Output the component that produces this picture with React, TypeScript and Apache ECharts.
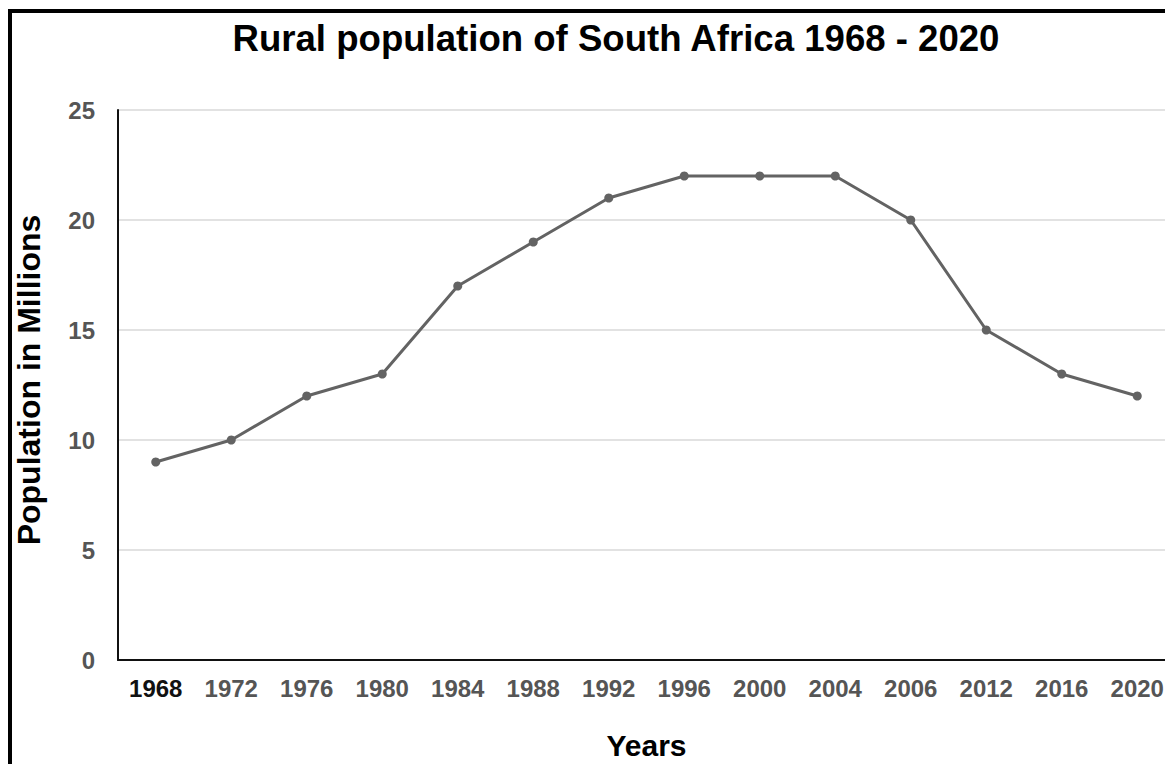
import React, { useEffect, useRef } from "react";
import * as echarts from "echarts";

const years = ["1968", "1972", "1976", "1980", "1984", "1988", "1992", "1996", "2000", "2004", "2006", "2012", "2016", "2020"];
const population = [9, 10, 12, 13, 17, 19, 21, 22, 22, 22, 20, 15, 13, 12];
const yTicks = [0, 5, 10, 15, 20, 25];

const FONT = "'Liberation Sans', Arial, sans-serif";

export default function App() {
  const ref = useRef<HTMLDivElement>(null);
  useEffect(() => {
    if (!ref.current) return;
    const chart = echarts.init(ref.current, undefined, { renderer: "svg" });
    chart.setOption({
      animation: false,
      backgroundColor: "#ffffff",
      title: {
        text: "Rural population of South Africa 1968 - 2020",
        left: 611,
        textAlign: "center",
        top: 15,
        textStyle: { fontFamily: FONT, fontSize: 36.6, fontWeight: "bold", color: "#000" },
      },
      graphic: [
        { type: "rect", shape: { x: 8, y: 9, width: 4, height: 760 }, style: { fill: "#000" } },
        { type: "rect", shape: { x: 8, y: 9, width: 1160, height: 4 }, style: { fill: "#000" } },
      ],
      grid: { left: 118, top: 110, bottom: 104, right: -10, containLabel: false, outerBoundsMode: "none" },
      xAxis: {
        type: "category",
        data: years,
        boundaryGap: true,
        name: "Years",
        nameLocation: "middle",
        nameGap: 70,
        nameTextStyle: { fontFamily: FONT, fontSize: 30, fontWeight: "bold", color: "#000" },
        axisLine: { show: true, lineStyle: { color: "#111", width: 2 } },
        axisTick: { show: false },
        axisLabel: {
          interval: 0,
          margin: 16,
          fontFamily: FONT,
          fontSize: 24,
          fontWeight: "bold",
          color: "#555",
          formatter: (v: string, i: number) => (i === 0 ? "{first|" + v + "}" : v),
          rich: { first: { fontFamily: FONT, fontSize: 24, fontWeight: "bold", color: "#111" } },
        },
        splitLine: { show: false },
      },
      yAxis: {
        type: "value",
        min: yTicks[0],
        max: yTicks[yTicks.length - 1],
        interval: 5,
        name: "Population in Millions",
        nameLocation: "middle",
        nameGap: 73,
        nameTextStyle: { fontFamily: FONT, fontSize: 32, fontWeight: "bold", color: "#000", padding: [0, 0, 0, 10] },
        axisLine: { show: true, lineStyle: { color: "#111", width: 2 } },
        axisTick: { show: false },
        axisLabel: { margin: 23, fontFamily: FONT, fontSize: 24, fontWeight: "bold", color: "#555" },
        splitLine: { show: true, lineStyle: { color: "#e2e2e2", width: 2 } },
      },
      series: [
        {
          type: "line",
          data: population,
          symbol: "circle",
          symbolSize: 9,
          lineStyle: { color: "#636363", width: 3 },
          itemStyle: { color: "#636363" },
        },
      ],
    });
    return () => chart.dispose();
  }, []);
  return <div ref={ref} style={{ position: "absolute", left: 0, top: 0, width: 1165, height: 764 }} />;
}
